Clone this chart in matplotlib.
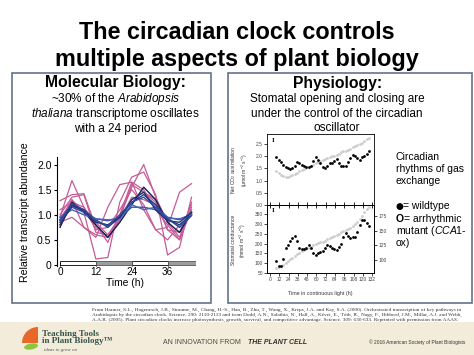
import numpy as np
import matplotlib
matplotlib.use('Agg')
import matplotlib.pyplot as plt
from matplotlib.patches import Rectangle, Wedge, Ellipse

SANS = ['Liberation Sans', 'DejaVu Sans']
SERIF = ['Liberation Serif', 'DejaVu Serif']
plt.rcParams['font.family'] = SANS
plt.rcParams['mathtext.fontset'] = 'custom'
plt.rcParams['mathtext.rm'] = 'Liberation Sans'
plt.rcParams['mathtext.it'] = 'Liberation Sans:italic'
plt.rcParams['mathtext.bf'] = 'Liberation Sans:bold'

# ---------------- data: molecular biology panel ----------------
t_mol = [0, 4, 8, 12, 16, 20, 24, 28, 32, 36, 40, 44]
pink_1 = [1.28, 1.40, 1.42, 0.75, 0.55, 0.95, 1.55, 2.00, 1.35, 0.85, 0.55, 1.25]
pink_2 = [0.95, 1.68, 1.15, 0.80, 0.45, 1.00, 1.65, 1.50, 1.10, 0.80, 0.50, 1.10]
pink_3 = [0.80, 1.30, 0.75, 0.55, 1.15, 1.60, 1.65, 1.10, 0.70, 0.75, 1.45, 1.62]
pink_4 = [0.90, 1.30, 1.05, 0.12, 0.15, 1.25, 1.75, 1.85, 1.40, 0.20, 0.35, 1.35]
pink_5 = [1.00, 1.35, 1.40, 0.65, 0.60, 0.95, 1.60, 1.45, 1.30, 0.70, 0.65, 1.20]
pink_6 = [0.85, 0.95, 0.75, 0.60, 0.55, 0.90, 1.30, 1.45, 1.25, 0.70, 0.50, 1.15]
pink_7 = [0.95, 1.20, 1.10, 0.85, 0.60, 0.90, 1.35, 1.30, 1.20, 0.95, 0.75, 1.05]
pink_8 = [1.10, 1.25, 1.15, 0.70, 0.75, 1.10, 1.50, 1.20, 0.70, 0.50, 0.80, 1.00]
blue_1 = [0.75, 1.25, 1.05, 0.80, 0.55, 0.85, 1.20, 1.55, 1.30, 0.85, 0.65, 1.05]
blue_2 = [0.90, 1.20, 1.10, 0.90, 0.75, 0.95, 1.25, 1.40, 1.20, 0.90, 0.80, 1.00]
blue_3 = [0.85, 1.15, 1.05, 0.92, 0.88, 0.95, 1.15, 1.15, 1.10, 0.95, 0.90, 1.02]
blue_4 = [0.95, 1.10, 1.00, 0.92, 0.90, 0.92, 1.20, 1.10, 1.15, 0.93, 0.92, 1.00]
blue_5 = [0.80, 1.18, 1.08, 0.85, 0.80, 0.95, 1.30, 1.45, 1.10, 0.88, 0.85, 1.05]
blue_6 = [0.88, 1.22, 1.10, 0.88, 0.78, 1.00, 1.25, 1.35, 1.15, 0.92, 0.75, 0.98]
pink_series = [pink_1, pink_2, pink_3, pink_4, pink_5, pink_6, pink_7, pink_8]
blue_series = [blue_1, blue_2, blue_3, blue_4, blue_5, blue_6]
blue_colors = ['#141d50', '#1f3a8a', '#3552a8', '#4565b8', '#22306e', '#2f4a9c']
light_periods = [(0, 12), (24, 36)]
dark_periods = [(12, 24), (36, 45.5)]
mol_xticks = [0, 12, 24, 36]
mol_yticks = [0, 0.5, 1.0, 1.5, 2.0]
mol_yticklabels = ['0', '0.5', '1.0', '1.5', '2.0']

# ---------------- data: physiology panel ----------------
t_gas = list(range(8, 129, 3))
co2_wt = [1.95, 1.85, 1.75, 1.65, 1.55, 1.50, 1.48, 1.50, 1.60, 1.75,
          1.72, 1.65, 1.58, 1.55, 1.55, 1.60, 1.80, 1.95, 1.85, 1.70,
          1.55, 1.50, 1.60, 1.70, 1.72, 1.80, 1.88, 1.70, 1.60, 1.58,
          1.60, 1.75, 1.90, 2.05, 2.00, 1.90, 1.85, 1.95, 2.00, 2.10,
          2.20]
co2_mut = [1.40, 1.30, 1.22, 1.17, 1.15, 1.15, 1.18, 1.22, 1.28, 1.32,
           1.38, 1.42, 1.47, 1.50, 1.55, 1.60, 1.65, 1.70, 1.75, 1.80,
           1.83, 1.88, 1.92, 1.96, 2.00, 2.02, 2.05, 2.10, 2.15, 2.20,
           2.22, 2.25, 2.30, 2.35, 2.40, 2.45, 2.50, 2.55, 2.60, 2.68,
           2.75]
gs_wt = [110, 88, 85, 120, 175, 195, 212, 228, 238, 215,
         178, 170, 172, 178, 195, 175, 150, 141, 150, 158,
         162, 175, 190, 185, 178, 172, 168, 180, 200, 235,
         252, 238, 226, 232, 235, 260, 295, 318, 320, 305,
         290]
gs_mut = [87, 88, 90, 92, 95, 98, 101, 104, 107, 110,
          112, 115, 117, 119, 121, 123, 125, 127, 129, 130,
          131, 133, 135, 137, 139, 141, 143, 145, 147, 149,
          151, 153, 155, 158, 161, 165, 170, 175, 181, 187,
          190]
gas_xticks = [0, 12, 24, 36, 48, 60, 72, 84, 96, 108, 120, 132]
co2_yticks = [0.0, 0.5, 1.0, 1.5, 2.0, 2.5]
gs_yticks = [50, 100, 150, 200, 250, 300, 350]
gs_right_yticks = [100, 125, 150, 175]

# ---------------- figure ----------------
W, H = 474, 355
fig = plt.figure(figsize=(W / 100, H / 100), dpi=100)
fig.patch.set_facecolor('white')
bg = fig.add_axes([0, 0, 1, 1], zorder=0)
bg.set_xlim(0, W)
bg.set_ylim(H, 0)
bg.axis('off')

def fr(x0, y_top, x1, y_bot):
    return [x0 / W, (H - y_bot) / H, (x1 - x0) / W, (y_bot - y_top) / H]

# footer band
bg.add_patch(Rectangle((0, 322), W, 33, facecolor='#f4ecda', edgecolor='none'))
# panel boxes
for x0, x1 in [(12, 211), (228, 472)]:
    bg.add_patch(Rectangle((x0, 73), x1 - x0, 230, facecolor='white',
                           edgecolor='#62728c', lw=1.2))

# title
bg.text(237, 39, 'The circadian clock controls', ha='center', va='baseline',
        fontsize=16.8, fontweight='bold')
bg.text(237, 66, 'multiple aspects of plant biology', ha='center', va='baseline',
        fontsize=16.8, fontweight='bold')

# left panel texts
bg.text(115, 87, 'Molecular Biology:', ha='center', va='baseline', fontsize=11.3, fontweight='bold')
bg.text(115.5, 102, r'~30% of the $\mathit{Arabidopsis}$', ha='center', va='baseline', fontsize=8.5)
bg.text(115.5, 117, r'$\mathit{thaliana}$ transcriptome oscillates', ha='center', va='baseline', fontsize=8.5)
bg.text(115.5, 132, 'with a 24 period', ha='center', va='baseline', fontsize=8.5)
bg.text(25, 212, 'Relative transcript abundance', rotation=90, ha='center', va='center', fontsize=7.6)
bg.text(125, 286, 'Time (h)', ha='center', va='baseline', fontsize=7.4)

# right panel texts
bg.text(337.5, 88, 'Physiology:', ha='center', va='baseline', fontsize=11.3, fontweight='bold')
bg.text(337, 102, 'Stomatal opening and closing are', ha='center', va='baseline', fontsize=8.5)
bg.text(337, 117, 'under the control of the circadian', ha='center', va='baseline', fontsize=8.5)
bg.text(337, 131, 'oscillator', ha='center', va='baseline', fontsize=8.5)
for yy, s in [(160, 'Circadian'), (172, 'rhythms of gas'), (184, 'exchange')]:
    bg.text(396, yy, s, ha='left', va='baseline', fontsize=7.5)
bg.text(396, 209, '\u25cf', ha='left', va='baseline', fontsize=6.5, family=['DejaVu Sans'])
bg.text(403, 209, '= wildtype', ha='left', va='baseline', fontsize=7.5)
bg.text(396, 221.5, 'O', ha='left', va='baseline', fontsize=7.5, fontweight='bold')
bg.text(404, 221.5, '= arrhythmic', ha='left', va='baseline', fontsize=7.5)
bg.text(396, 233.5, r'mutant ($\mathit{CCA1}$-', ha='left', va='baseline', fontsize=7.5)
bg.text(396, 246, 'ox)', ha='left', va='baseline', fontsize=7.5)
bg.text(239.5, 170, 'Net CO$_2$ assimilation\n(\u00b5mol m$^{-2}$ s$^{-1}$)', rotation=90,
        ha='center', va='center', multialignment='center', linespacing=1.25, fontsize=3.6, color='#333')
bg.text(239.5, 240, 'Stomatal conductance\n(mmol m$^{-2}$ s$^{-1}$)', rotation=90,
        ha='center', va='center', multialignment='center', linespacing=1.25, fontsize=3.6, color='#333')
bg.text(320, 294, 'Time in continuous light (h)', ha='center', va='center', fontsize=3.8, color='#333')

# citation
cite = [
    'From Harmer, S.L., Hogenesch, J.B., Straume, M., Chang, H.-S., Han, B., Zhu, T., Wang, X., Kreps, J.A. and Kay, S.A. (2000). Orchestrated transcription of key pathways in',
    'Arabidopsis by the circadian clock. Science. 290: 2110-2113 and from Dodd, A.N., Salathia, N., Hall, A., K\u00e9vei, E., T\u00f3th, R., Nagy, F., Hibberd, J.M., Millar, A.J. and Webb,',
    'A.A.R. (2005). Plant circadian clocks increase photosynthesis, growth, survival, and competitive advantage. Science. 309: 630-633. Reprinted with permission from AAAS.',
]
for i, line in enumerate(cite):
    bg.text(92, 311 + 5 * i, line, ha='left', va='baseline', fontsize=3.75, family=SERIF, color='#333')

# footer
bg.add_patch(Wedge((38, 343), 16, 180, 270, facecolor='#e8682a', edgecolor='none'))
bg.add_patch(Ellipse((31, 346.5), 14, 6, angle=-10, facecolor='#8cc540', edgecolor='none'))
bg.text(42.5, 336, 'Teaching Tools', ha='left', va='baseline', fontsize=6.5, fontweight='bold', family=SERIF, color='#36544a')
bg.text(42.5, 343, 'in Plant Biology\u2122', ha='left', va='baseline', fontsize=6.5, fontweight='bold', family=SERIF, color='#36544a')
bg.text(44, 350.5, 'ideas to grow on', ha='left', va='baseline', fontsize=3.5, style='italic', family=SERIF, color='#36544a')
bg.text(163, 344, 'AN INNOVATION FROM', ha='left', va='baseline', fontsize=5, color='#4a4a4a')
bg.text(248, 344, 'THE PLANT CELL', ha='left', va='baseline', fontsize=5, color='#333', fontweight='bold', style='italic')
bg.text(465, 344, '\u00a9 2016 American Society of Plant Biologists', ha='right', va='baseline', fontsize=3.5, color='#333')

# ---------------- left chart ----------------
ax = fig.add_axes(fr(57, 157, 196, 266), zorder=2)
ax.patch.set_alpha(0)
for s in pink_series:
    ax.plot(t_mol, s, color='#c45c98', lw=0.9)
for s, c in zip(blue_series, blue_colors):
    ax.plot(t_mol, s, color=c, lw=1.0)
for a, b in light_periods:
    ax.add_patch(Rectangle((a, 0), b - a, 0.08, facecolor='white', edgecolor='black', lw=0.6, zorder=3))
for a, b in dark_periods:
    ax.add_patch(Rectangle((a, 0), b - a, 0.08, facecolor='#9c9c9c', edgecolor='#555', lw=0.6, zorder=3))
ax.set_xlim(-1, 45.5)
ax.set_ylim(-0.02, 2.15)
for sp in ['top', 'right', 'bottom']:
    ax.spines[sp].set_visible(False)
ax.spines['left'].set_linewidth(0.8)
ax.set_yticks(mol_yticks)
ax.set_yticklabels(mol_yticklabels)
ax.set_xticks(mol_xticks)
ax.tick_params(axis='y', labelsize=7.5, length=2.5, width=0.8, pad=1.5)
ax.tick_params(axis='x', labelsize=7.2, length=3, width=0.8, direction='in', pad=1.0)

# ---------------- right charts ----------------
axt = fig.add_axes(fr(267, 134, 374, 205), zorder=2)
axt.plot(t_gas, co2_mut, 'o', color='#cccccc', ms=2.0, mew=0)
axt.plot(t_gas, co2_wt, 'o', color='black', ms=2.0, mew=0)
axt.set_xlim(-4, 134.5)
axt.set_ylim(0, 2.9)
axt.set_yticks(co2_yticks)
axt.set_yticklabels(['%.1f' % v for v in co2_yticks])
axt.set_xticks(gas_xticks)
axt.set_xticklabels([])
axt.tick_params(axis='x', direction='inout', length=4, width=0.6)
axt.tick_params(axis='y', labelsize=3.5, labelcolor='#444', length=2, width=0.5, pad=1)
for sp in axt.spines.values():
    sp.set_linewidth(0.6)
axt.text(0.056, 0.915, 'I', transform=axt.transAxes, ha='center', va='center',
         fontsize=5, fontweight='bold', family=SERIF)

axb = fig.add_axes(fr(267, 205, 374, 273), zorder=3)
axb2 = axb.twinx()
axb.set_zorder(axb2.get_zorder() + 1)
axb.patch.set_visible(False)
axb2.plot(t_gas, gs_mut, 'o', color='#cccccc', ms=2.0, mew=0)
axb.plot(t_gas, gs_wt, 'o', color='black', ms=2.0, mew=0)
axb.set_xlim(-4, 134.5)
axb.set_ylim(50, 396)
axb2.set_ylim(77.9, 193.7)
axb.set_yticks(gs_yticks)
axb2.set_yticks(gs_right_yticks)
axb.set_xticks(gas_xticks)
axb.tick_params(axis='both', labelsize=3.5, labelcolor='#444', length=2, width=0.5, pad=1)
axb2.tick_params(axis='y', labelsize=3.5, labelcolor='#444', length=2, width=0.5, pad=1)
for sp in list(axb.spines.values()) + list(axb2.spines.values()):
    sp.set_linewidth(0.6)
axb.text(0.056, 0.926, 'I', transform=axb.transAxes, ha='center', va='center',
         fontsize=5, fontweight='bold', family=SERIF)

fig.savefig('out.png', dpi=100)
